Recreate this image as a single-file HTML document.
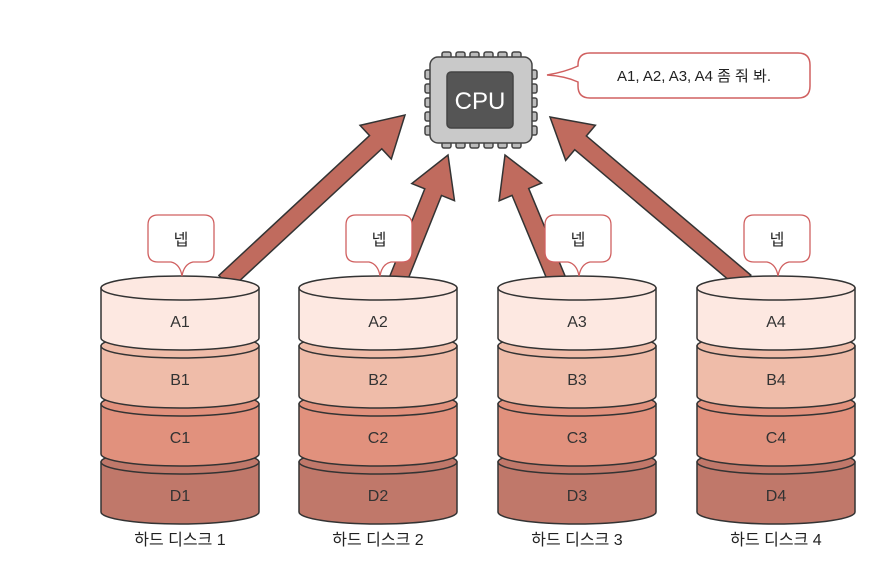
<!DOCTYPE html>
<html><head><meta charset="utf-8"><style>
body{margin:0;background:#fff;}
svg text{font-family:"Liberation Sans","Noto Sans CJK KR",sans-serif;}
</style></head><body>
<svg id="s" width="890" height="566" viewBox="0 0 890 566" xmlns="http://www.w3.org/2000/svg">
<g id="arrows"></g>
<!-- CPU -->
<g stroke="#444" stroke-width="1.5">
<g id="pins" fill="#bbb"></g>
<rect x="430" y="57" width="102" height="86" rx="8" fill="#c9c9c9"/>
<rect x="447" y="72" width="66" height="56" rx="4" fill="#555"/>
</g>
<text x="480" y="109" font-size="24" fill="#fff" text-anchor="middle">CPU</text>
<path d="M590,53 H798 Q810,53 810,65 V86 Q810,98 798,98 H590 Q578,98 578,86 V82 Q565,76 547,75 Q565,72 578,66 V65 Q578,53 590,53 Z" fill="#fff" stroke="#d06060" stroke-width="1.5"/>
<text x="694" y="81" font-size="15" fill="#222" text-anchor="middle">A1, A2, A3, A4 좀 줘 봐.</text>
<g id="disks"></g>
</svg>
<script>
var NS="http://www.w3.org/2000/svg";
function el(p,t,a,txt){var e=document.createElementNS(NS,t);for(var k in a)e.setAttribute(k,a[k]);if(txt)e.textContent=txt;p.appendChild(e);return e;}
var pins=document.getElementById('pins');
for(var i=0;i<6;i++){var x=442+i*14;el(pins,'rect',{x:x,y:52,width:9,height:8,rx:2});el(pins,'rect',{x:x,y:140,width:9,height:8,rx:2});}
for(var i=0;i<5;i++){var y=70+i*14;el(pins,'rect',{x:425,y:y,width:8,height:9,rx:2});el(pins,'rect',{x:529,y:y,width:8,height:9,rx:2});}
var ar=document.getElementById('arrows');
function arrow(x1,y1,x2,y2){var dx=x2-x1,dy=y2-y1,L=Math.sqrt(dx*dx+dy*dy),ux=dx/L,uy=dy/L,nx=-uy,ny=ux;var w=9,hw=23,hl=40;var bx=x2-ux*hl,by=y2-uy*hl;
var pts=[[x1+nx*w,y1+ny*w],[bx+nx*w,by+ny*w],[bx+nx*hw,by+ny*hw],[x2,y2],[bx-nx*hw,by-ny*hw],[bx-nx*w,by-ny*w],[x1-nx*w,y1-ny*w]];
el(ar,'polygon',{points:pts.map(function(p){return p.join(',')}).join(' '),fill:'#c06b5e',stroke:'#333','stroke-width':1.5,'stroke-linejoin':'miter'});}
arrow(225,282,405,115);arrow(398,280,448,155);arrow(557,280,505,155);arrow(745,282,550,117);
var dk=document.getElementById('disks');
var cols=['#fde8e1','#efbca9','#e1917d','#c0786a'];var L=['A','B','C','D'];
var cx=[180,378,577,776];
for(var d=0;d<4;d++){var c=cx[d],x=c-79,w=158;
 for(var j=3;j>=0;j--){var ty=288+j*58,by=ty+50;
  el(dk,'path',{d:'M'+x+','+ty+' V'+by+' A79,12 0 0 0 '+(x+w)+','+by+' V'+ty+' Z',fill:cols[j],stroke:'#333','stroke-width':1.5});
  el(dk,'ellipse',{cx:c,cy:ty,rx:79,ry:12,fill:cols[j],stroke:'#333','stroke-width':1.5});
  el(dk,'text',{x:c,y:ty+39,'font-size':16,fill:'#333','text-anchor':'middle'},L[j]+(d+1));}
 el(dk,'text',{x:c,y:545,'font-size':16,fill:'#222','text-anchor':'middle'},'하드 디스크 '+(d+1));
 var bx=c-32,bw=66;
 el(dk,'path',{d:'M'+(bx+10)+',215 H'+(bx+bw-10)+' Q'+(bx+bw)+',215 '+(bx+bw)+',225 V252 Q'+(bx+bw)+',262 '+(bx+bw-10)+',262 H'+(bx+bw/2+12)+' Q'+(bx+bw/2+3)+',264 '+(bx+bw/2+1)+',276 Q'+(bx+bw/2-1)+',264 '+(bx+bw/2-10)+',262 H'+(bx+10)+' Q'+bx+',262 '+bx+',252 V225 Q'+bx+',215 '+(bx+10)+',215 Z',fill:'#fff',stroke:'#d06060','stroke-width':1.3});
 el(dk,'text',{x:bx+bw/2,y:245,'font-size':16,fill:'#222','text-anchor':'middle'},'넵');
}
</script>
</body></html>
